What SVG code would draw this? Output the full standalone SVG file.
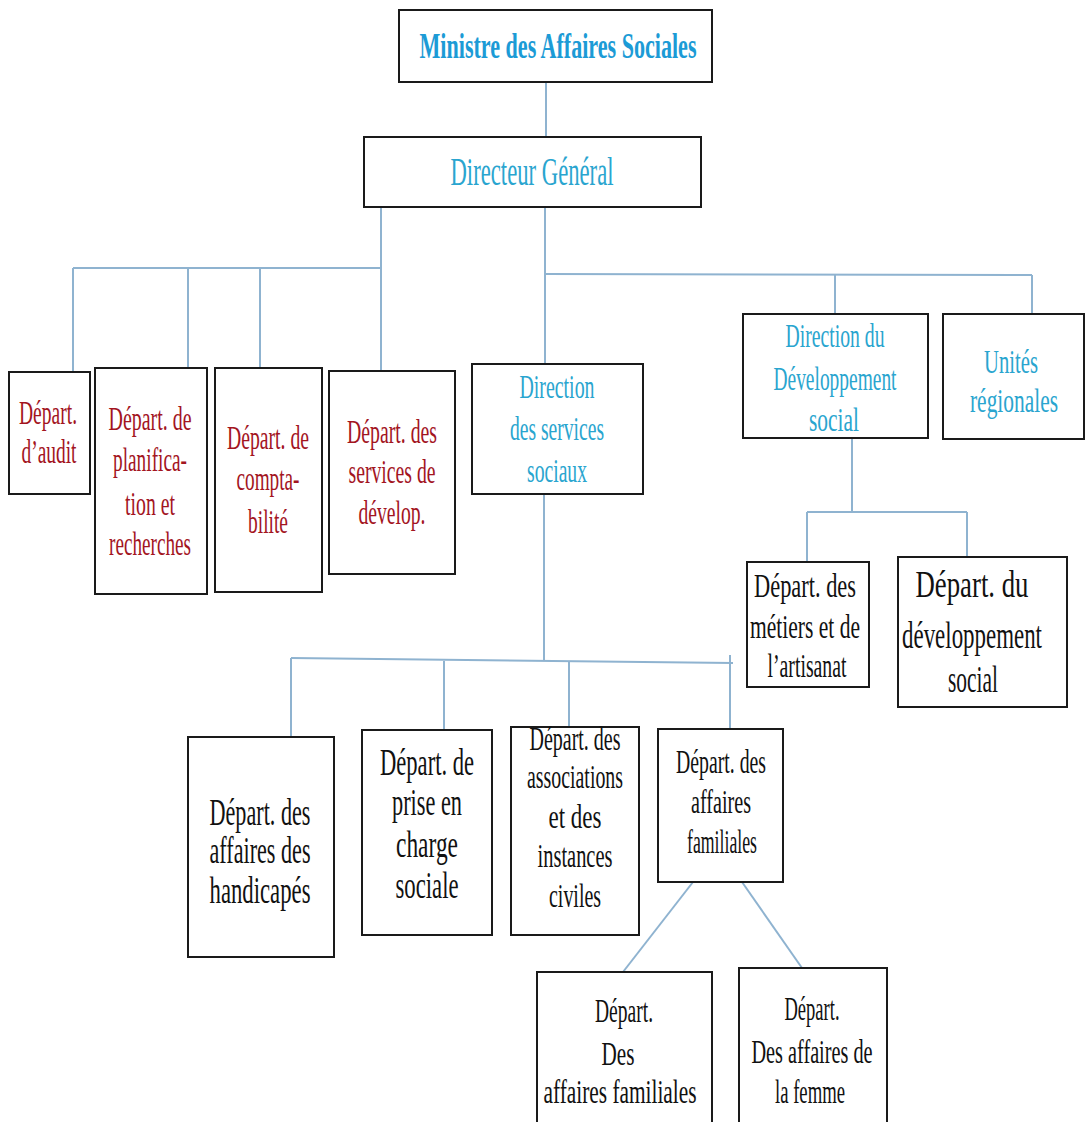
<svg xmlns="http://www.w3.org/2000/svg" width="1087" height="1122" viewBox="0 0 1087 1122">
  <style>
    .box { fill: #ffffff; stroke: #1a1a1a; stroke-width: 2; }
    .link { stroke: #8fb3d0; stroke-width: 2; fill: none; }
    text { font-family: "Liberation Serif", "Times New Roman", serif; text-anchor: middle; }
    .head { font-size: 36px; font-weight: bold; fill: #1c9bd6; }
    .cyan { font-size: 34px; fill: #2aa5cf; }
    .red { font-size: 33px; fill: #a3151f; }
    .blk { font-size: 34px; fill: #111111; }
    .big { font-size: 37px; }
  </style>

  <rect width="1087" height="1122" fill="#ffffff"/>

  <!-- connectors -->
  <g id="connectors" class="link">
    <line x1="546" y1="82" x2="546" y2="137"/>
    <line x1="545" y1="207" x2="545" y2="364"/>
    <line x1="545" y1="274" x2="1032" y2="275"/>
    <line x1="835" y1="275" x2="835" y2="314"/>
    <line x1="1032" y1="275" x2="1032" y2="314"/>
    <line x1="381" y1="207" x2="381" y2="371"/>
    <line x1="73" y1="268" x2="381" y2="268"/>
    <line x1="73" y1="268" x2="73" y2="372"/>
    <line x1="188" y1="268" x2="188" y2="368"/>
    <line x1="260" y1="268" x2="260" y2="368"/>
    <line x1="852" y1="438" x2="852" y2="512"/>
    <line x1="807" y1="512" x2="967" y2="512"/>
    <line x1="807" y1="512" x2="807" y2="562"/>
    <line x1="967" y1="512" x2="967" y2="557"/>
    <line x1="544" y1="494" x2="544" y2="660"/>
    <line x1="291" y1="658" x2="733" y2="663"/>
    <line x1="291" y1="658" x2="291" y2="737"/>
    <line x1="444" y1="661" x2="444" y2="730"/>
    <line x1="569" y1="662" x2="569" y2="727"/>
    <line x1="730" y1="655" x2="730" y2="729"/>
    <line x1="693" y1="882" x2="623" y2="972"/>
    <line x1="742" y1="882" x2="802" y2="968"/>
  </g>

  <!-- every label is set in a condensed serif: x scaled to 0.6 -->
  <g id="ministre">
    <rect class="box" x="399" y="10" width="313" height="72"/>
    <text class="head" transform="translate(558 58) scale(0.6 1)" textLength="461.7" lengthAdjust="spacingAndGlyphs">Ministre des Affaires Sociales</text>
  </g>

  <g id="directeur-general">
    <rect class="box" x="364" y="137" width="337" height="70"/>
    <text class="cyan" style="font-size:40px" transform="translate(532 185) scale(0.6 1)" textLength="271.7" lengthAdjust="spacingAndGlyphs">Directeur Général</text>
  </g>

  <g id="depart-audit">
    <rect class="box" x="9" y="372" width="81" height="122"/>
    <text class="red" transform="translate(48 424) scale(0.6 1)" textLength="96.7" lengthAdjust="spacingAndGlyphs">Départ.</text>
    <text class="red" transform="translate(49 463) scale(0.6 1)" textLength="91.7" lengthAdjust="spacingAndGlyphs">d’audit</text>
  </g>

  <g id="depart-planification">
    <rect class="box" x="95" y="368" width="112" height="226"/>
    <text class="red" transform="translate(150 430) scale(0.6 1)" textLength="138.3" lengthAdjust="spacingAndGlyphs">Départ. de</text>
    <text class="red" transform="translate(150 471) scale(0.6 1)" textLength="123.3" lengthAdjust="spacingAndGlyphs">planifica-</text>
    <text class="red" transform="translate(150 515) scale(0.6 1)" textLength="83.3" lengthAdjust="spacingAndGlyphs">tion et</text>
    <text class="red" transform="translate(150 555) scale(0.6 1)" textLength="136.7" lengthAdjust="spacingAndGlyphs">recherches</text>
  </g>

  <g id="depart-comptabilite">
    <rect class="box" x="215" y="368" width="107" height="224"/>
    <text class="red" transform="translate(268 449) scale(0.6 1)" textLength="136.7" lengthAdjust="spacingAndGlyphs">Départ. de</text>
    <text class="red" transform="translate(268 490) scale(0.6 1)" textLength="105" lengthAdjust="spacingAndGlyphs">compta-</text>
    <text class="red" transform="translate(268 533) scale(0.6 1)" textLength="66.7" lengthAdjust="spacingAndGlyphs">bilité</text>
  </g>

  <g id="depart-services-develop">
    <rect class="box" x="329" y="371" width="126" height="203"/>
    <text class="red" transform="translate(392 443) scale(0.6 1)" textLength="150" lengthAdjust="spacingAndGlyphs">Départ. des</text>
    <text class="red" transform="translate(392 483) scale(0.6 1)" textLength="145" lengthAdjust="spacingAndGlyphs">services de</text>
    <text class="red" transform="translate(392 524) scale(0.6 1)" textLength="111.7" lengthAdjust="spacingAndGlyphs">dévelop.</text>
  </g>

  <g id="direction-services-sociaux">
    <rect class="box" x="472" y="364" width="171" height="130"/>
    <text class="cyan" transform="translate(557 398) scale(0.6 1)" textLength="125" lengthAdjust="spacingAndGlyphs">Direction</text>
    <text class="cyan" transform="translate(557 440) scale(0.6 1)" textLength="156.7" lengthAdjust="spacingAndGlyphs">des services</text>
    <text class="cyan" transform="translate(557 482) scale(0.6 1)" textLength="100" lengthAdjust="spacingAndGlyphs">sociaux</text>
  </g>

  <g id="direction-developpement-social">
    <rect class="box" x="743" y="314" width="185" height="124"/>
    <text class="cyan" transform="translate(835 347) scale(0.6 1)" textLength="165" lengthAdjust="spacingAndGlyphs">Direction du</text>
    <text class="cyan" transform="translate(835 390) scale(0.6 1)" textLength="205" lengthAdjust="spacingAndGlyphs">Développement</text>
    <text class="cyan" transform="translate(834 431) scale(0.6 1)" textLength="83.3" lengthAdjust="spacingAndGlyphs">social</text>
  </g>

  <g id="unites-regionales">
    <rect class="box" x="943" y="314" width="141" height="125"/>
    <text class="cyan" transform="translate(1011 373) scale(0.6 1)" textLength="90" lengthAdjust="spacingAndGlyphs">Unités</text>
    <text class="cyan" transform="translate(1014 412) scale(0.6 1)" textLength="146.7" lengthAdjust="spacingAndGlyphs">régionales</text>
  </g>

  <g id="depart-metiers">
    <rect class="box" x="747" y="562" width="122" height="125"/>
    <text class="blk" transform="translate(805 597) scale(0.6 1)" textLength="170" lengthAdjust="spacingAndGlyphs">Départ. des</text>
    <text class="blk" transform="translate(805 638) scale(0.6 1)" textLength="183.3" lengthAdjust="spacingAndGlyphs">métiers et de</text>
    <text class="blk" transform="translate(807 677) scale(0.6 1)" textLength="131.7" lengthAdjust="spacingAndGlyphs">l’artisanat</text>
  </g>

  <g id="depart-developpement-social">
    <rect class="box" x="898" y="557" width="169" height="150"/>
    <text class="blk" style="font-size:38px" transform="translate(972 597) scale(0.6 1)" textLength="188.3" lengthAdjust="spacingAndGlyphs">Départ. du</text>
    <text class="blk" style="font-size:38px" transform="translate(972 648) scale(0.6 1)" textLength="233.3" lengthAdjust="spacingAndGlyphs">développement</text>
    <text class="blk" style="font-size:38px" transform="translate(973 692) scale(0.6 1)" textLength="83.3" lengthAdjust="spacingAndGlyphs">social</text>
  </g>

  <g id="depart-handicapes">
    <rect class="box" x="188" y="737" width="146" height="220"/>
    <text class="blk big" transform="translate(260 825) scale(0.6 1)" textLength="168.3" lengthAdjust="spacingAndGlyphs">Départ. des</text>
    <text class="blk big" transform="translate(260 863) scale(0.6 1)" textLength="168.3" lengthAdjust="spacingAndGlyphs">affaires des</text>
    <text class="blk big" transform="translate(260 903) scale(0.6 1)" textLength="168.3" lengthAdjust="spacingAndGlyphs">handicapés</text>
  </g>

  <g id="depart-prise-en-charge">
    <rect class="box" x="362" y="730" width="130" height="205"/>
    <text class="blk big" transform="translate(427 775) scale(0.6 1)" textLength="156.7" lengthAdjust="spacingAndGlyphs">Départ. de</text>
    <text class="blk big" transform="translate(427 815) scale(0.6 1)" textLength="116.7" lengthAdjust="spacingAndGlyphs">prise en</text>
    <text class="blk big" transform="translate(427 857) scale(0.6 1)" textLength="103.3" lengthAdjust="spacingAndGlyphs">charge</text>
    <text class="blk big" transform="translate(427 898) scale(0.6 1)" textLength="105" lengthAdjust="spacingAndGlyphs">sociale</text>
  </g>

  <g id="depart-associations">
    <rect class="box" x="511" y="727" width="128" height="208"/>
    <text class="blk" transform="translate(575 750) scale(0.6 1)" textLength="151.7" lengthAdjust="spacingAndGlyphs">Départ. des</text>
    <text class="blk" transform="translate(575 788) scale(0.6 1)" textLength="160" lengthAdjust="spacingAndGlyphs">associations</text>
    <text class="blk" transform="translate(575 828) scale(0.6 1)" textLength="88.3" lengthAdjust="spacingAndGlyphs">et des</text>
    <text class="blk" transform="translate(575 867) scale(0.6 1)" textLength="125" lengthAdjust="spacingAndGlyphs">instances</text>
    <text class="blk" transform="translate(575 907) scale(0.6 1)" textLength="86.7" lengthAdjust="spacingAndGlyphs">civiles</text>
  </g>

  <g id="depart-affaires-familiales">
    <rect class="box" x="658" y="729" width="125" height="153"/>
    <text class="blk" transform="translate(721 773) scale(0.6 1)" textLength="150" lengthAdjust="spacingAndGlyphs">Départ. des</text>
    <text class="blk" transform="translate(721 813) scale(0.6 1)" textLength="100" lengthAdjust="spacingAndGlyphs">affaires</text>
    <text class="blk" transform="translate(722 853) scale(0.6 1)" textLength="116.7" lengthAdjust="spacingAndGlyphs">familiales</text>
  </g>

  <g id="depart-des-affaires-familiales">
    <rect class="box" x="537" y="972" width="175" height="160"/>
    <text class="blk" transform="translate(624 1022) scale(0.6 1)" textLength="96.7" lengthAdjust="spacingAndGlyphs">Départ.</text>
    <text class="blk" transform="translate(618 1065) scale(0.6 1)" textLength="55" lengthAdjust="spacingAndGlyphs">Des</text>
    <text class="blk" transform="translate(620 1103) scale(0.6 1)" textLength="255" lengthAdjust="spacingAndGlyphs">affaires familiales</text>
  </g>

  <g id="depart-affaires-femme">
    <rect class="box" x="739" y="968" width="148" height="164"/>
    <text class="blk" transform="translate(812 1020) scale(0.6 1)" textLength="91.7" lengthAdjust="spacingAndGlyphs">Départ.</text>
    <text class="blk" transform="translate(812 1063) scale(0.6 1)" textLength="201.7" lengthAdjust="spacingAndGlyphs">Des affaires de</text>
    <text class="blk" transform="translate(810 1103) scale(0.6 1)" textLength="116.7" lengthAdjust="spacingAndGlyphs">la femme</text>
  </g>
</svg>
